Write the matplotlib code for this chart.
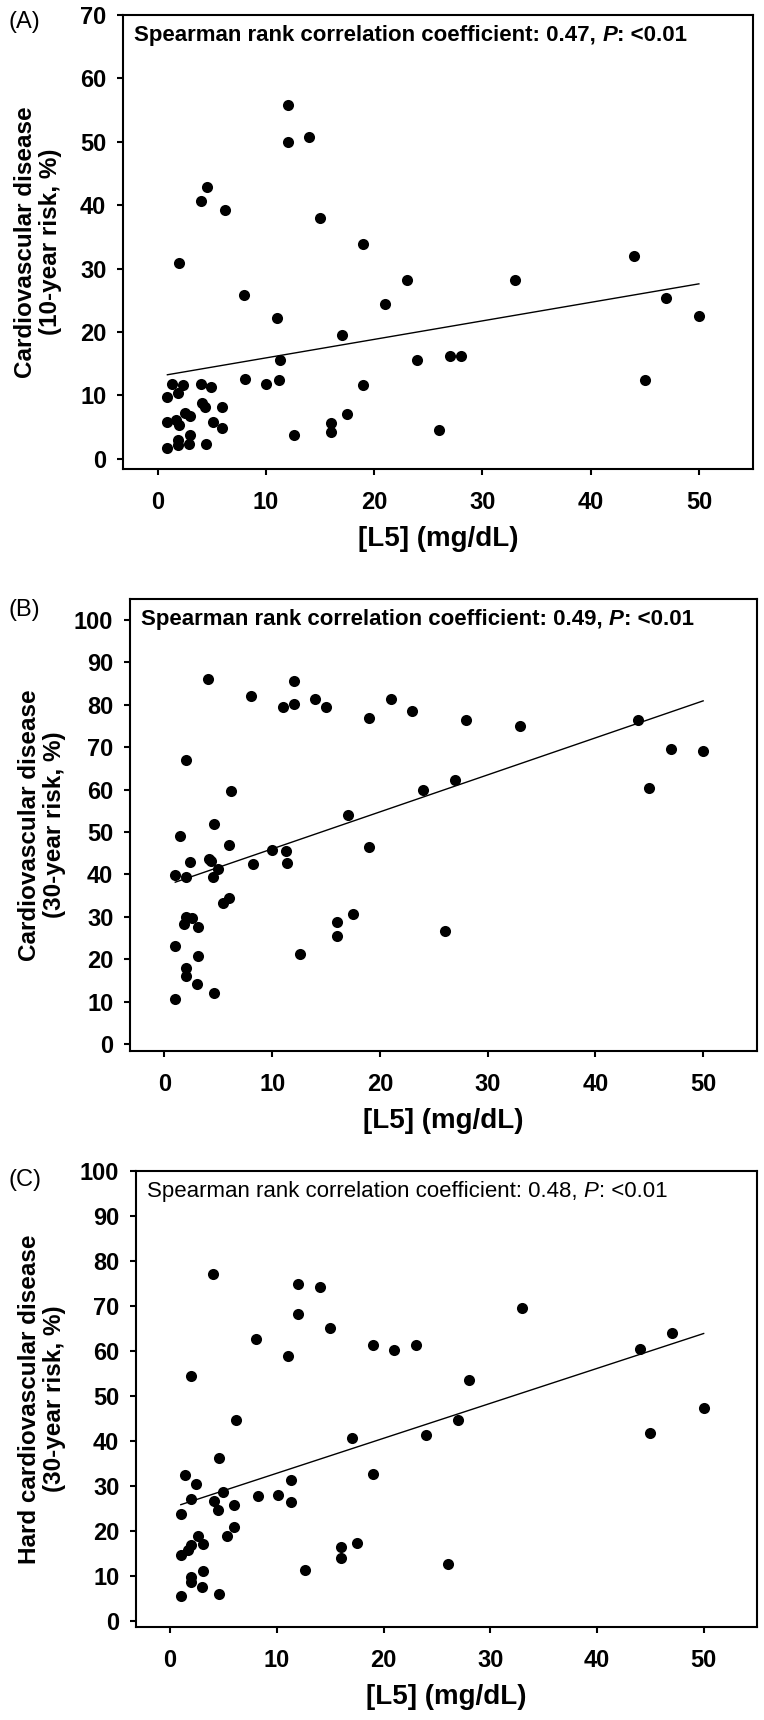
import matplotlib
matplotlib.use('Agg')
import matplotlib.pyplot as plt
import numpy as np

plt.rcParams['font.family'] = ['Liberation Sans', 'DejaVu Sans']

# [L5] (mg/dL) vs cardiovascular risk
a_x = [12, 12, 14, 4.6, 4, 6.2, 15, 19, 2, 44, 33, 23, 8, 21, 47, 50, 11, 17, 27, 28,
       24, 11.3, 8.1, 11.2, 10, 45, 19, 1.3, 2.3, 4, 4.9, 0.9, 1.9, 4.1, 4.4, 5.9, 2.5, 3,
       17.5, 0.9, 1.7, 2, 5.1, 5.9, 16, 16, 26, 12.6, 3, 1.9, 1.9, 2.9, 4.5, 0.9]
a_y = [55.8, 50, 50.7, 42.8, 40.7, 39.2, 38, 33.9, 30.9, 32, 28.2, 28.2, 25.9, 24.5, 25.3,
       22.5, 22.2, 19.5, 16.3, 16.3, 15.6, 15.6, 12.6, 12.5, 11.8, 12.4, 11.6, 11.8, 11.6,
       11.8, 11.3, 9.7, 10.4, 8.8, 8.2, 8.1, 7.2, 6.7, 7.0, 5.8, 6.1, 5.3, 5.8, 4.8, 5.7,
       4.3, 4.5, 3.8, 3.8, 2.9, 2.2, 2.4, 2.3, 1.7]

b_x = [4, 12, 8, 11, 12, 14, 15, 21, 19, 23, 28, 33, 44, 47, 50, 45, 2, 6.2, 24, 27,
       17, 4.6, 1.4, 6, 19, 10, 11.3, 11.4, 8.2, 2.4, 4.1, 4.3, 5, 4.5, 1, 2, 5.4, 6, 2,
       2.6, 1.8, 3.1, 16, 16, 17.5, 26, 12.6, 1, 3.1, 2, 2, 3, 4.6, 1]
b_y = [86, 85.5, 82, 79.4, 80.2, 81.4, 79.4, 81.4, 76.9, 78.5, 76.4, 74.9, 76.5, 69.5,
       69.1, 60.3, 67, 59.6, 59.8, 62.3, 53.9, 51.8, 49, 47, 46.4, 45.7, 45.6, 42.6, 42.5,
       43, 43.7, 43.1, 41.3, 39.5, 39.8, 39.5, 33.2, 34.5, 30, 29.8, 28.3, 27.6, 28.7,
       25.4, 30.7, 26.7, 21.2, 23.1, 20.9, 17.9, 16, 14.2, 12.1, 10.7]

c_x = [4, 12, 14, 12, 15, 33, 47, 44, 8, 11, 19, 21, 23, 2, 28, 50, 6.2, 27, 24, 45,
       17, 4.6, 19, 1.4, 2.4, 11.3, 5, 8.2, 10.1, 2, 4.1, 11.3, 6, 4.5, 1, 6, 5.3, 2.6,
       3.1, 2, 1.7, 1, 17.5, 16, 16, 26, 12.6, 3.1, 2, 2, 3, 4.6, 1]
c_y = [77.1, 74.9, 74.3, 68.3, 65.1, 69.5, 64, 60.4, 62.6, 58.9, 61.4, 60.3, 61.3, 54.5,
       53.6, 47.3, 44.7, 44.6, 41.4, 41.8, 40.7, 36.3, 32.6, 32.4, 30.4, 31.3, 28.8, 27.9,
       28.1, 27.2, 26.6, 26.4, 25.7, 24.7, 23.7, 21, 19, 19, 17.2, 16.9, 15.7, 14.6, 17.3,
       16.4, 14, 12.7, 11.4, 11.1, 9.7, 8.6, 7.5, 6.1, 5.5]

# regression lines (slope, intercept) as drawn
fit_a = (0.292, 13.0)
fit_b = (0.872, 37.3)
fit_c = (0.776, 25.1)

rho = ['0.47', '0.49', '0.48']
letters = ['(A)', '(B)', '(C)']
ylabels = ['Cardiovascular disease\n(10-year risk, %)',
           'Cardiovascular disease\n(30-year risk, %)',
           'Hard cardiovascular disease\n(30-year risk, %)']
xlabel = '[L5] (mg/dL)'

W, H = 764, 1720


def px_rect(l, t, r, b):
    return [l / W, 1 - b / H, (r - l) / W, (b - t) / H]


def text_run(fig, ax, x, y, parts, size, weight):
    # write pieces one after another on one line
    for s, style in parts:
        t = ax.text(x, y, s, transform=ax.transAxes, fontsize=size, va='center',
                    ha='left', fontweight=weight, fontstyle=style)
        fig.canvas.draw()
        bb = t.get_window_extent()
        x = ax.transAxes.inverted().transform((bb.x1, bb.y0))[0]


def draw_panel(fig, rect, x, y, fit, ylim, yticks, letter, r, ylab, bold_txt,
               letter_y, ylab_x):
    ax = fig.add_axes(px_rect(*rect))
    ax.scatter(x, y, s=64, color='black', zorder=3, linewidths=0)
    xs = np.array([min(x), max(x)])
    ax.plot(xs, fit[0] * xs + fit[1], color='black', lw=1.0, zorder=2)
    ax.set_xlim(-3.2, 55)
    ax.set_ylim(*ylim)
    ax.set_xticks(range(0, 51, 10))
    ax.set_yticks(yticks)
    for sp in ax.spines.values():
        sp.set_linewidth(1.5)
    ax.tick_params(direction='out', length=4, width=1.5, labelsize=17)
    ax.tick_params(axis='x', pad=12)
    ax.tick_params(axis='y', pad=8)
    for lab in ax.get_xticklabels() + ax.get_yticklabels():
        lab.set_fontweight('bold')
    ax.set_xlabel(xlabel, fontsize=20, fontweight='bold')
    ax.xaxis.set_label_coords(0.5, -0.125)
    ax.set_ylabel(ylab, fontsize=17.5, fontweight='bold', linespacing=1.1)
    ax.yaxis.set_label_coords(ylab_x, 0.5)
    w = 'bold' if bold_txt else 'normal'
    text_run(fig, ax, 0.018, 0.955,
             [('Spearman rank correlation coefficient: ' + r + ', ', 'normal'),
              ('P', 'italic'), (': <0.01', 'normal')], 16, w)
    fig.text(8 / W, 1 - letter_y / H, letter, fontsize=17, va='center', ha='left')
    return ax


fig = plt.figure(figsize=(W / 100, H / 100), dpi=100)

draw_panel(fig, (123, 15, 753, 469), a_x, a_y, fit_a, (-1.6, 70), range(0, 71, 10),
           letters[0], rho[0], ylabels[0], True, 22, -0.097)
draw_panel(fig, (130, 599, 757, 1051), b_x, b_y, fit_b, (-1.6, 104.9), range(0, 101, 10),
           letters[1], rho[1], ylabels[1], True, 610, -0.102)
draw_panel(fig, (136, 1171, 757, 1627), c_x, c_y, fit_c, (-1.3, 100), range(0, 101, 10),
           letters[2], rho[2], ylabels[2], False, 1180, -0.113)

fig.savefig('out.png', dpi=100)
